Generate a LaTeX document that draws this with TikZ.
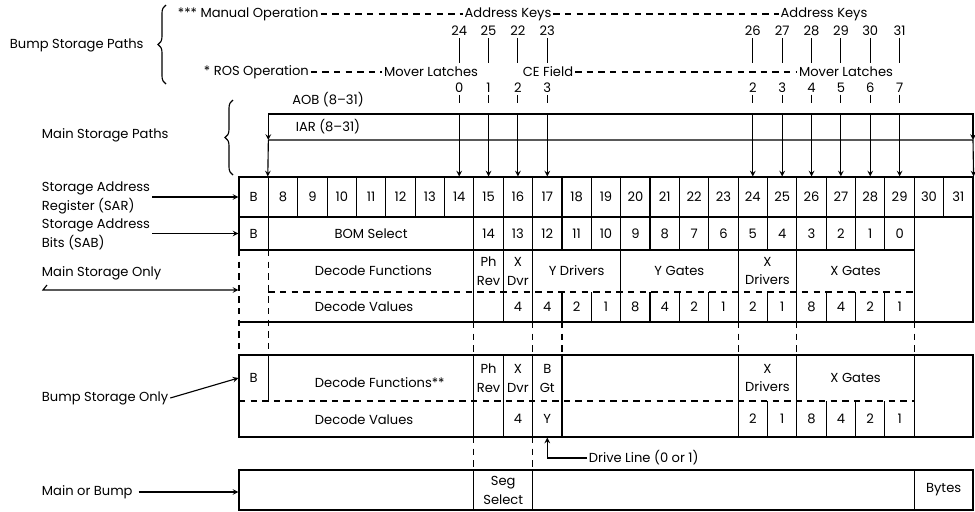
\documentclass[tikz,border=0pt]{standalone}
\usepackage{fontspec}
\setmainfont{Poppins}
\usetikzlibrary{arrows, positioning, decorations.pathreplacing}

\newcommand{\figfont}{\fontsize{9.3}{13.5}\selectfont}
\newcommand{\colx}[1]{239+29.36*(#1)}

\tikzset{
  lbl/.style={inner sep=1pt},
  cell/.style={inner sep=0pt, minimum width=7.34mm, align=center},
  sarcell/.style={cell, draw, minimum height=10mm},
  sabcell/.style={cell, draw, minimum height=8.25mm},
  fncell/.style={cell, minimum height=10.5mm},
  valcell/.style={cell, minimum height=7.5mm},
  bfncell/.style={cell, minimum height=11.5mm},
  bvalcell/.style={cell, minimum height=9mm},
  dashline/.style={dash pattern=on 1.6mm off 1.3mm},
  pathbrace/.style={decorate, decoration={brace, amplitude=2mm}}
}

\begin{document}
\begin{tikzpicture}[x=0.25mm, y=-0.25mm, >=stealth, line width=0.8pt, font=\figfont]
    \useasboundingbox (0,0) rectangle (975,511);

    \node[lbl, anchor=west] (bsp) at (8,45) {Bump Storage Paths};
    \draw[pathbrace] (166,84) -- (166,5);
    \node[lbl, anchor=west] (man) at (176,14) {*** Manual Operation};
    \node[lbl] (ak1) at (508,14) {Address Keys};
    \node[lbl] (ak2) at (824,14) {Address Keys};
    \draw[dashline] (man.east) -- (ak1.west) (ak1.east) -- (ak2.west);
    \node[lbl, anchor=west] (ros) at (202,72) {* ROS Operation};
    \node[lbl] (ml1) at (431,72) {Mover Latches};
    \node[lbl] (ce) at (548,72) {CE Field};
    \node[lbl] (ml2) at (846,72) {Mover Latches};
    \draw[dashline] (ros.east) -- (ml1.west) (ce.east) -- (ml2.west);

    \node[lbl, anchor=west] (msp) at (40,135) {Main Storage Paths};
    \draw[pathbrace] (233,175) -- (233,100);
    \node[lbl] (aob) at (328,100) {AOB (8--31)};
    \node[lbl] (iar) at (328,127) {IAR (8--31)};

    \node[sarcell] (s0) at ({\colx{0.5}},197) {B};
    \foreach \i [evaluate=\i as \b using int(\i+7)] in {1,...,24}
        \node[sarcell] (s\i) at ({\colx{\i+0.5}},197) {\b};

    \coordinate (aobl) at ({\colx{1}},114);
    \coordinate (aobr) at ({\colx{25}},114);
    \coordinate (iarl) at ({\colx{1}},140);
    \coordinate (iarr) at ({\colx{25}},140);
    \draw[->] (aobl) -- (iarl);
    \draw[->] (aobl) -- (aobr) -- (iarr);
    \draw[->] (iarl) -- (s1.north west);
    \draw[->] (iarl) -- (iarr) -- (s24.north east);

    \foreach \i/\u/\l in {7/24/0, 8/25/1, 9/22/2, 10/23/3, 17/26/2, 18/27/3, 19/28/4, 20/29/5, 21/30/6, 22/31/7} {
        \node[lbl] (u\i) at ({\colx{\i+0.5}},31) {\u};
        \node[lbl] (l\i) at ({\colx{\i+0.5}},88) {\l};
        \draw (u\i.south) -- (u\i.south |- ros.north);
        \draw (l\i.south) -- ++(0,8);
        \draw[->] (l\i |- aobl) -- (s\i.north);
    }

    \node[sabcell] (b0) at ({\colx{0.5}},233.5) {B};
    \node[sabcell, minimum width=51.38mm] (bom) at ({\colx{4.5}},233.5) {BOM Select};
    \foreach \i [evaluate=\i as \v using int(22-\i)] in {8,...,22}
        \node[sabcell] (b\i) at ({\colx{\i+0.5}},233.5) {\v};
    \node[cell, draw, minimum width=14.68mm, minimum height=26.25mm] (rbox) at ({\colx{24}},269.5) {};

    \node[cell, minimum height=18mm] (mB) at ({\colx{0.5}},286) {};
    \node[lbl, anchor=west] (mdf) at (313,271) {Decode Functions};
    \node[lbl, anchor=west] (mdv) at (313,307) {Decode Values};
    \node[fncell] (mf8) at ({\colx{8.5}},271) {Ph\\Rev};
    \node[fncell] (mf9) at ({\colx{9.5}},271) {X\\Dvr};
    \node[fncell] (myd) at ({\colx{11.5}},271) {Y Drivers};
    \node[fncell] (myg) at ({\colx{15}},271) {Y Gates};
    \node[fncell] (mxd) at ({\colx{18}},271) {X\\Drivers};
    \node[fncell] (mxg) at ({\colx{21}},271) {X Gates};
    \foreach \i/\v in {9/4, 10/4, 11/2, 12/1, 13/8, 14/4, 15/2, 16/1, 17/2, 18/1, 19/8, 20/4, 21/2, 22/1}
        \node[valcell] (mv\i) at ({\colx{\i+0.5}},307) {\v};
    \draw ({\colx{0}},322) -- ({\colx{23}},322);
    \draw[dashline] ({\colx{1}},292) -- ({\colx{23}},292);
    \foreach \i in {8,9,10,13,17,19,23}
        \draw ({\colx{\i}},250) -- ({\colx{\i}},322);
    \foreach \i in {11,12,14,15,16,18,20,21,22}
        \draw ({\colx{\i}},292) -- ({\colx{\i}},322);
    \foreach \i in {0,1}
        \draw[dashline] ({\colx{\i}},250) -- ({\colx{\i}},355);
    \foreach \i in {8,10,11,17,19,23}
        \draw[dashline] ({\colx{\i}},322) -- ({\colx{\i}},355);

    \draw ({\colx{0}},355) rectangle ({\colx{25}},437);
    \draw[dashline] ({\colx{0}},401) -- ({\colx{23}},401);
    \draw ({\colx{1}},355) -- ({\colx{1}},401);
    \foreach \i in {8,9,10,11,17,19,23}
        \draw ({\colx{\i}},355) -- ({\colx{\i}},437);
    \foreach \i in {18,20,21,22}
        \draw ({\colx{\i}},401) -- ({\colx{\i}},437);
    \node[bfncell] (bB) at ({\colx{0.5}},378) {B};
    \node[lbl, anchor=west] (bdf) at (313,383) {Decode Functions**};
    \node[lbl, anchor=west] (bdv) at (313,420) {Decode Values};
    \node[bfncell] (bf8) at ({\colx{8.5}},378) {Ph\\Rev};
    \node[bfncell] (bf9) at ({\colx{9.5}},378) {X\\Dvr};
    \node[bfncell] (bf10) at ({\colx{10.5}},378) {B\\Gt};
    \node[bfncell] (bxd) at ({\colx{18}},378) {X\\Drivers};
    \node[bfncell] (bxg) at ({\colx{21}},378) {X Gates};
    \foreach \i/\v in {9/4, 10/Y, 17/2, 18/1, 19/8, 20/4, 21/2, 22/1}
        \node[bvalcell] (bv\i) at ({\colx{\i+0.5}},419) {\v};

    \node[lbl, anchor=west] (dl) at (587,458) {Drive Line (0 or 1)};
    \draw[->] (dl.west) -| (bv10.south);
    \foreach \i in {8,10}
        \draw[dashline] ({\colx{\i}},437) -- ({\colx{\i}},470);

    \draw ({\colx{0}},470) rectangle ({\colx{25}},510);
    \foreach \i in {8,10,23}
        \draw ({\colx{\i}},470) -- ({\colx{\i}},510);
    \node[cell, minimum width=58.72mm, minimum height=10mm] (mob) at ({\colx{4}},490) {};
    \node[cell] (seg) at ({\colx{9}},490) {Seg\\Select};
    \node[cell] (byt) at ({\colx{24}},490) {Bytes};

    \node[lbl, anchor=west, align=left] (lsar) at (40,198) {Storage Address\\Register (SAR)};
    \draw[->] (lsar.east |- s0.west) -- (s0.west);
    \node[lbl, anchor=west, align=left] (lsab) at (40,234) {Storage Address\\Bits (SAB)};
    \draw[->] (lsab.east |- b0.west) -- (b0.west);
    \node[lbl, anchor=west] (lmso) at (40,273) {Main Storage Only};
    \coordinate (msoa) at (43,290);
    \draw[->] ([shift={(4,-5)}]msoa) -- (msoa) -- (msoa -| mB.west);
    \node[lbl, anchor=west] (lbso) at (40,398) {Bump Storage Only};
    \draw[->] (lbso.east) -- (bB.west);
    \node[lbl, anchor=west] (lmob) at (40,492) {Main or Bump};
    \draw[->] ([xshift=3pt]lmob.east) -- (lmob.east -| mob.west);
\end{tikzpicture}
\end{document}
